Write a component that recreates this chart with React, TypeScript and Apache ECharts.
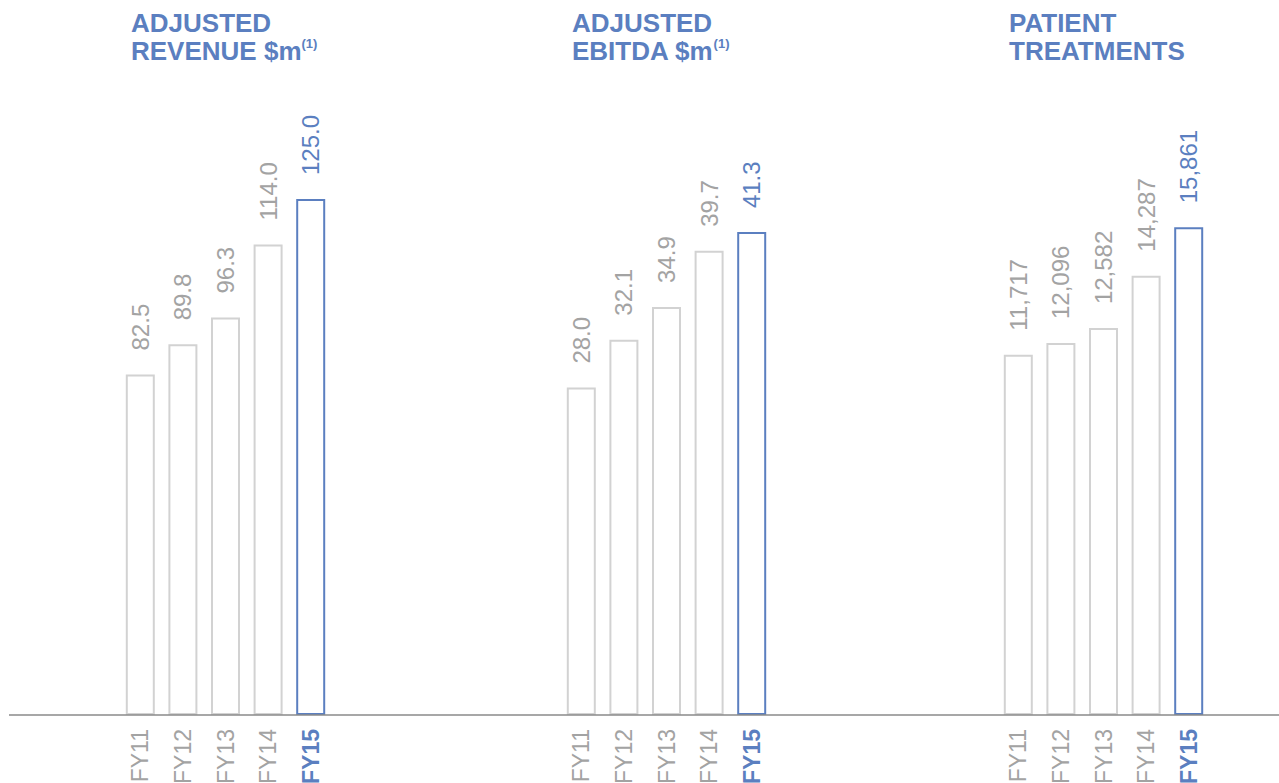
import React, { useEffect, useRef } from "react";
import * as echarts from "echarts";

const categories = ["FY11", "FY12", "FY13", "FY14", "FY15"];
const revenueValues = [82.5, 89.8, 96.3, 114.0, 125.0];
const ebitdaValues = [28.0, 32.1, 34.9, 39.7, 41.3];
const patientValues = [11717, 12096, 12582, 14287, 15861];

const BLUE = "#5b7fc0";
const GREY_TEXT = "#a3a3a3";
const GREY_BAR = "#d2d2d2";
const FONT = "'Liberation Sans', Arial, Helvetica, sans-serif";

const panels = [
  { values: revenueValues, max: 149, left: 119, fmt: (v: number) => v.toFixed(1) },
  { values: ebitdaValues, max: 52.6, left: 560, fmt: (v: number) => v.toFixed(1) },
  { values: patientValues, max: 20000, left: 997, fmt: (v: number) => v.toLocaleString("en-US") },
];

const titles = [
  { x: 131, line1: "ADJUSTED", line2: "REVENUE $m", sup: true },
  { x: 572, line1: "ADJUSTED", line2: "EBITDA $m", sup: true },
  { x: 1009, line1: "PATIENT", line2: "TREATMENTS", sup: false },
];

export default function App() {
  const ref = useRef<HTMLDivElement>(null);
  useEffect(() => {
    if (!ref.current) return;
    const chart = echarts.init(ref.current, null, { renderer: "svg" });
    const last = categories.length - 1;
    const option: any = {
      animation: false,
      backgroundColor: "#ffffff",
      grid: panels.map((p) => ({
        left: p.left,
        top: 100,
        width: 213,
        height: 615,
        containLabel: false,
        outerBoundsMode: "none",
      })),
      xAxis: panels.map((p, i) => ({
        type: "category",
        gridIndex: i,
        data: categories,
        axisLine: { show: false },
        axisTick: { show: false },
        axisLabel: {
          rotate: 90,
          margin: 14,
          fontFamily: FONT,
          fontSize: 23,
          color: GREY_TEXT,
          formatter: (v: string, idx: number) => (idx === last ? `{b|${v}}` : v),
          rich: {
            b: { fontFamily: FONT, fontSize: 23, fontWeight: "bold", color: BLUE },
          },
        },
      })),
      yAxis: panels.map((p, i) => ({
        type: "value",
        gridIndex: i,
        min: 0,
        max: p.max,
        show: false,
        splitLine: { show: false },
      })),
      series: panels.map((p, i) => ({
        type: "bar",
        xAxisIndex: i,
        yAxisIndex: i,
        barWidth: 29,
        data: p.values.map((v, j) => ({
          value: v,
          itemStyle: {
            color: "#ffffff",
            borderColor: j === last ? BLUE : GREY_BAR,
            borderWidth: 2,
          },
          label: { color: j === last ? BLUE : GREY_TEXT },
        })),
        label: {
          show: true,
          position: "top",
          rotate: 90,
          align: "left",
          verticalAlign: "middle",
          distance: 24,
          fontFamily: FONT,
          fontSize: 24,
          formatter: (prm: any) => p.fmt(prm.value),
        },
      })),
      graphic: [
        {
          type: "line",
          shape: { x1: 9, y1: 715, x2: 1279, y2: 715 },
          style: { stroke: "#8a8a8a", lineWidth: 1.5 },
          z: 10,
        },
        ...titles.map((t) => ({
          type: "text",
          left: t.x,
          top: 10,
          style: {
            text: `{t|${t.line1}}\n{t|${t.line2}}${t.sup ? "{s|(1)}" : ""}`,
            rich: {
              t: {
                fontFamily: FONT,
                fontSize: 26,
                fontWeight: "bold",
                fill: BLUE,
                lineHeight: 28,
              },
              s: {
                fontFamily: FONT,
                fontSize: 13,
                fontWeight: "bold",
                fill: BLUE,
                verticalAlign: "top",
                lineHeight: 28,
                padding: [0, 0, 10, 0],
              },
            },
          },
        })),
      ],
    };
    chart.setOption(option);
    return () => chart.dispose();
  }, []);
  return (
    <div
      ref={ref}
      style={{ position: "fixed", left: 0, top: 0, width: 1279, height: 783, background: "#fff" }}
    />
  );
}
